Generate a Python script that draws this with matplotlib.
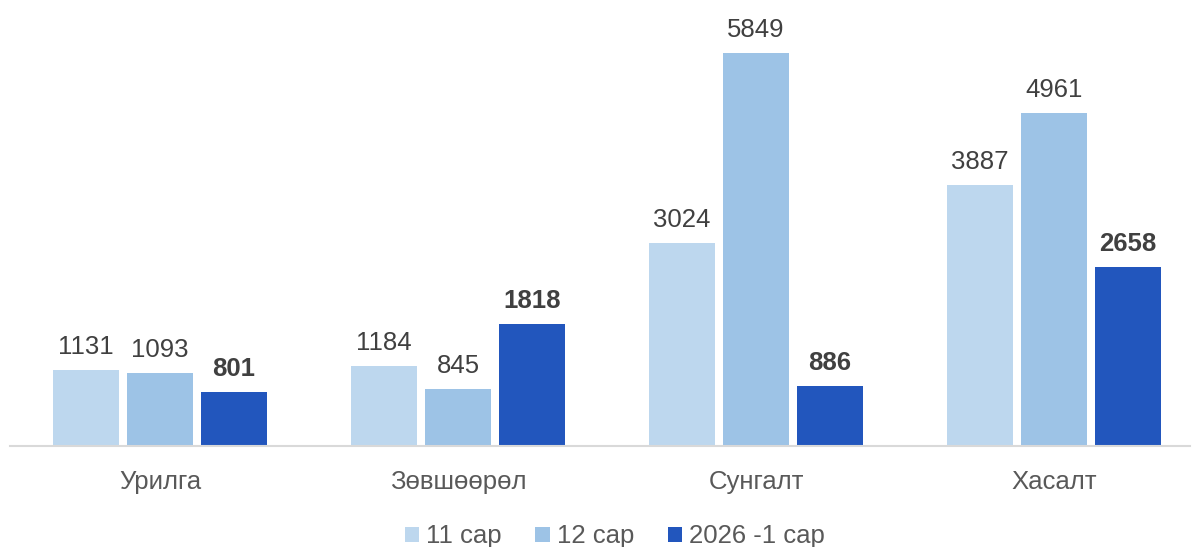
import matplotlib
matplotlib.use("Agg")
import matplotlib.pyplot as plt
import numpy as np

categories = ["Урилга", "Зөвшөөрөл", "Сунгалт", "Хасалт"]
series_names = ["11 сар", "12 сар", "2026 -1 сар"]
s11 = [1131, 1184, 3024, 3887]
s12 = [1093, 845, 5849, 4961]
s2026 = [801, 1818, 886, 2658]
colors = ["#BDD7EE", "#9DC3E6", "#2256BD"]

plt.rcParams['font.family'] = ['Liberation Sans', 'DejaVu Sans']

fig = plt.figure(figsize=(11.94, 5.47), dpi=100)
ax = fig.add_axes([10/1194, (547-446)/547, 1180/1194, 446/547])

x = np.arange(len(categories))
w = 66/298
off = 74/298
ymax = 446/0.06719
gap = 16/0.06719
txt = "#404040"
for i, (vals, name) in enumerate(zip([s11, s12, s2026], series_names)):
    pos = x + (i-1)*off
    bars = ax.bar(pos, vals, width=w, color=colors[i], label=name)
    for b, v in zip(bars, vals):
        ax.text(b.get_x()+b.get_width()/2, v + gap, str(v), ha='center', va='baseline',
                fontsize=18.5, color=txt,
                fontweight='bold' if i == 2 else 'normal')

ax.set_xlim(-150/298, 1030/298)
ax.set_ylim(0, ymax)
ax.set_xticks(x)
ax.set_xticklabels(categories, fontsize=18.5, color="#595959")
ax.tick_params(axis='x', length=0, pad=17)
ax.set_yticks([])
for s in ['top', 'right', 'left']:
    ax.spines[s].set_visible(False)
ax.spines['bottom'].set_color('#D9D9D9')
ax.spines['bottom'].set_linewidth(1.5)

leg = fig.legend(loc='lower center', bbox_to_anchor=(0.515, -0.045), ncol=3, frameon=False,
                 fontsize=18.5, handlelength=0.55, handleheight=0.55, handletextpad=0.28,
                 columnspacing=1.3)
for t in leg.get_texts():
    t.set_color("#595959")

fig.savefig("out.png", dpi=100)
